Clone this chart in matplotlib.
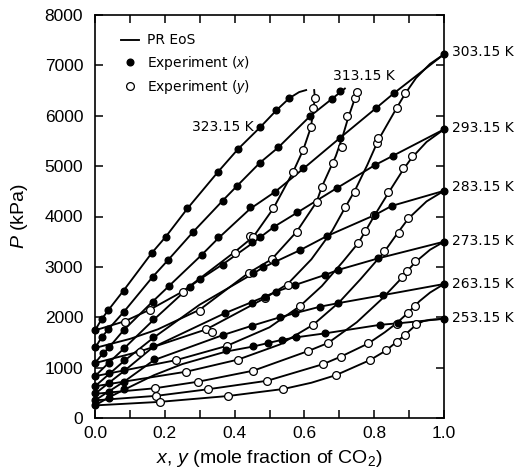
import matplotlib
matplotlib.use("Agg")
import matplotlib.pyplot as plt
from matplotlib.lines import Line2D

plt.rcParams['mathtext.fontset'] = 'custom'
plt.rcParams['mathtext.rm'] = 'Liberation Sans'
plt.rcParams['mathtext.it'] = 'Liberation Sans:italic'

# ---------------- data (x or y = mole fraction CO2, P in kPa) ----------------
temps = [323.15, 313.15, 303.15, 293.15, 283.15, 273.15, 263.15, 253.15]

# PR EoS bubble curves
bub_323_x = [0, 0.019, 0.038, 0.083, 0.162, 0.203, 0.265, 0.353, 0.41, 0.473, 0.52, 0.557, 0.585, 0.605]
bub_323_P = [1740, 1960, 2140, 2540, 3270, 3600, 4160, 4890, 5340, 5770, 6110, 6350, 6470, 6510]
bub_313_x = [0, 0.019, 0.038, 0.083, 0.165, 0.21, 0.282, 0.368, 0.406, 0.473, 0.525, 0.616, 0.678, 0.716]
bub_313_P = [1390, 1600, 1760, 2110, 2800, 3140, 3700, 4330, 4600, 5070, 5370, 5990, 6330, 6540]
bub_303_x = [0, 0.02, 0.04, 0.083, 0.165, 0.212, 0.306, 0.352, 0.444, 0.516, 0.597, 0.702, 0.805, 0.857, 1.0]
bub_303_P = [1090, 1260, 1400, 1750, 2310, 2620, 3240, 3560, 4150, 4490, 4950, 5560, 6150, 6450, 7220]
bub_293_x = [0, 0.04, 0.083, 0.165, 0.272, 0.30, 0.368, 0.449, 0.514, 0.58, 0.692, 0.802, 0.855, 1.0]
bub_293_P = [830, 1100, 1380, 1930, 2610, 2750, 3060, 3460, 3800, 4080, 4560, 5020, 5210, 5730]
bub_283_x = [0, 0.04, 0.083, 0.165, 0.30, 0.454, 0.482, 0.516, 0.587, 0.664, 0.802, 0.85, 1.0]
bub_283_P = [630, 870, 1130, 1580, 2250, 2870, 2990, 3100, 3330, 3610, 4030, 4210, 4510]
bub_273_x = [0, 0.04, 0.083, 0.165, 0.372, 0.449, 0.487, 0.52, 0.573, 0.659, 0.697, 0.812, 1.0]
bub_273_P = [480, 700, 930, 1400, 2080, 2300, 2410, 2510, 2640, 2840, 2940, 3170, 3500]
bub_263_x = [0, 0.04, 0.083, 0.169, 0.368, 0.449, 0.53, 0.573, 0.645, 0.697, 0.826, 1.0]
bub_263_P = [350, 530, 720, 1150, 1650, 1830, 2000, 2080, 2210, 2280, 2440, 2660]
bub_253_x = [0, 0.04, 0.083, 0.169, 0.25, 0.376, 0.454, 0.497, 0.535, 0.575, 0.659, 0.817, 0.869, 1.0]
bub_253_P = [250, 410, 560, 850, 1070, 1320, 1420, 1490, 1550, 1600, 1680, 1850, 1880, 1970]

# PR EoS dew curves
dew_323_y = [0, 0.085, 0.157, 0.251, 0.344, 0.401, 0.454, 0.511, 0.568, 0.597, 0.619, 0.626, 0.63, 0.628]
dew_323_P = [1740, 1920, 2150, 2510, 3000, 3300, 3600, 4160, 4890, 5330, 5780, 6150, 6350, 6510]
dew_313_y = [0, 0.1, 0.18, 0.3, 0.44, 0.506, 0.578, 0.635, 0.65, 0.69, 0.71, 0.725, 0.74, 0.75]
dew_313_P = [1390, 1570, 1760, 2150, 2880, 3150, 3700, 4290, 4590, 5200, 5600, 5950, 6250, 6480]
dew_303_y = [0, 0.128, 0.319, 0.487, 0.552, 0.62, 0.68, 0.716, 0.745, 0.78, 0.812, 0.864, 0.888, 0.92, 0.96, 1.0]
dew_303_P = [1090, 1320, 1760, 2380, 2660, 3150, 3720, 4170, 4520, 5020, 5520, 6150, 6430, 6750, 7030, 7220]
dew_293_y = [0, 0.233, 0.377, 0.5, 0.587, 0.65, 0.71, 0.755, 0.774, 0.80, 0.839, 0.883, 0.907, 0.95, 1.0]
dew_293_P = [830, 1150, 1430, 1800, 2220, 2620, 3100, 3480, 3700, 4010, 4450, 4930, 5160, 5480, 5730]
dew_283_y = [0, 0.262, 0.41, 0.53, 0.625, 0.7, 0.76, 0.829, 0.87, 0.898, 0.95, 1.0]
dew_283_P = [630, 920, 1160, 1460, 1850, 2300, 2750, 3300, 3700, 3960, 4300, 4510]
dew_273_y = [0, 0.171, 0.295, 0.454, 0.611, 0.668, 0.75, 0.82, 0.879, 0.893, 0.917, 0.96, 1.0]
dew_273_P = [480, 590, 720, 940, 1330, 1490, 1900, 2350, 2780, 2900, 3090, 3340, 3500]
dew_263_y = [0, 0.176, 0.323, 0.494, 0.654, 0.705, 0.783, 0.83, 0.864, 0.897, 0.93, 0.96, 1.0]
dew_263_P = [350, 440, 570, 740, 1070, 1220, 1480, 1700, 1880, 2090, 2320, 2490, 2660]
dew_253_y = [0, 0.185, 0.382, 0.54, 0.62, 0.69, 0.788, 0.834, 0.864, 0.888, 0.92, 0.94, 0.96, 1.0]
dew_253_P = [250, 320, 437, 576, 700, 850, 1150, 1340, 1510, 1650, 1850, 1920, 1950, 1970]

# Experimental liquid (x) points
ex_323_x = [0, 0.019, 0.038, 0.083, 0.162, 0.203, 0.265, 0.353, 0.41, 0.473, 0.52, 0.557]
ex_323_P = [1750, 1960, 2140, 2520, 3270, 3600, 4160, 4890, 5340, 5770, 6110, 6350]
ex_313_x = [0, 0.019, 0.038, 0.083, 0.165, 0.21, 0.282, 0.368, 0.406, 0.473, 0.525, 0.616, 0.678, 0.702]
ex_313_P = [1400, 1600, 1760, 2110, 2800, 3140, 3700, 4300, 4600, 5070, 5370, 5990, 6330, 6490]
ex_303_x = [0, 0.024, 0.04, 0.083, 0.165, 0.212, 0.306, 0.352, 0.444, 0.516, 0.597, 0.702, 0.805, 0.857, 1.0]
ex_303_P = [1100, 1300, 1400, 1750, 2310, 2620, 3240, 3600, 4180, 4490, 4960, 5560, 6150, 6450, 7220]
ex_293_x = [0, 0.04, 0.083, 0.165, 0.272, 0.30, 0.368, 0.449, 0.473, 0.514, 0.58, 0.692, 0.802, 0.855, 1.0]
ex_293_P = [840, 1100, 1380, 1960, 2610, 2750, 3040, 3500, 3590, 3800, 4080, 4560, 5020, 5210, 5730]
ex_283_x = [0, 0.04, 0.083, 0.165, 0.454, 0.482, 0.516, 0.587, 0.664, 0.802, 0.85, 1.0]
ex_283_P = [640, 890, 1150, 1600, 2870, 2990, 3100, 3330, 3610, 4030, 4210, 4510]
ex_273_x = [0, 0.04, 0.083, 0.165, 0.372, 0.449, 0.487, 0.52, 0.573, 0.659, 0.697, 0.812, 1.0]
ex_273_P = [490, 690, 950, 1420, 2080, 2290, 2410, 2510, 2640, 2840, 2940, 3170, 3500]
ex_263_x = [0, 0.04, 0.083, 0.169, 0.368, 0.449, 0.53, 0.573, 0.645, 0.697, 0.826, 1.0]
ex_263_P = [360, 520, 720, 1180, 1650, 1830, 2000, 2080, 2210, 2280, 2440, 2660]
ex_253_x = [0, 0.04, 0.083, 0.376, 0.454, 0.497, 0.535, 0.575, 0.659, 0.817, 0.869, 1.0]
ex_253_P = [260, 400, 570, 1350, 1420, 1490, 1550, 1600, 1680, 1850, 1880, 1970]

# Experimental vapour (y) points
ey_323_y = [0.085, 0.157, 0.251, 0.401, 0.444, 0.454, 0.511, 0.568, 0.597, 0.619, 0.626, 0.63]
ey_323_P = [1910, 2140, 2510, 3270, 3610, 3600, 4160, 4890, 5330, 5780, 6150, 6350]
ey_313_y = [0.3, 0.44, 0.506, 0.578, 0.635, 0.65, 0.681, 0.707, 0.721, 0.745, 0.75]
ey_313_P = [2130, 2880, 3150, 3700, 4290, 4590, 5060, 5370, 5990, 6350, 6480]
ey_303_y = [0.128, 0.319, 0.334, 0.487, 0.552, 0.716, 0.745, 0.807, 0.812, 0.864, 0.888]
ey_303_P = [1320, 1760, 1710, 2380, 2640, 4190, 4490, 5450, 5550, 6150, 6450]
ey_293_y = [0.233, 0.377, 0.587, 0.755, 0.774, 0.80, 0.839, 0.883, 0.907]
ey_293_P = [1150, 1430, 2220, 3480, 3720, 4030, 4480, 4960, 5200]
ey_283_y = [0.262, 0.41, 0.625, 0.829, 0.87, 0.898]
ey_283_P = [920, 1160, 1850, 3320, 3680, 3970]
ey_273_y = [0.171, 0.295, 0.454, 0.611, 0.668, 0.879, 0.893, 0.917]
ey_273_P = [590, 720, 940, 1330, 1490, 2790, 2920, 3110]
ey_263_y = [0.176, 0.323, 0.494, 0.654, 0.705, 0.783, 0.864, 0.897, 0.917]
ey_263_P = [440, 570, 740, 1070, 1220, 1480, 1870, 2080, 2230]
ey_253_y = [0.185, 0.382, 0.54, 0.69, 0.788, 0.834, 0.864, 0.888, 0.92]
ey_253_P = [320, 437, 576, 850, 1150, 1340, 1510, 1650, 1860]

label_323_pos = (0.455, 5780)
label_313_pos = (0.682, 6790)
right_labels = ["303.15 K", "293.15 K", "283.15 K", "273.15 K", "263.15 K", "253.15 K"]
right_label_P = [7260, 5760, 4580, 3510, 2660, 1985]

x_ticks = [0.0, 0.2, 0.4, 0.6, 0.8, 1.0]
x_ticklabels = ["0.0", "0.2", "0.4", "0.6", "0.8", "1.0"]
y_ticks = [0, 1000, 2000, 3000, 4000, 5000, 6000, 7000, 8000]

# ---------------- plotting ----------------
fig = plt.figure(figsize=(5.17, 4.75), dpi=100)
ax = fig.add_axes([95/517, 1-418/475, 349/517, 403/475])

lw = 1.35
ms_fill = 4.8
ms_open = 5.6
bubbles = [(bub_323_x, bub_323_P), (bub_313_x, bub_313_P), (bub_303_x, bub_303_P), (bub_293_x, bub_293_P),
           (bub_283_x, bub_283_P), (bub_273_x, bub_273_P), (bub_263_x, bub_263_P), (bub_253_x, bub_253_P)]
dews = [(dew_323_y, dew_323_P), (dew_313_y, dew_313_P), (dew_303_y, dew_303_P), (dew_293_y, dew_293_P),
        (dew_283_y, dew_283_P), (dew_273_y, dew_273_P), (dew_263_y, dew_263_P), (dew_253_y, dew_253_P)]
exs = [(ex_323_x, ex_323_P), (ex_313_x, ex_313_P), (ex_303_x, ex_303_P), (ex_293_x, ex_293_P),
       (ex_283_x, ex_283_P), (ex_273_x, ex_273_P), (ex_263_x, ex_263_P), (ex_253_x, ex_253_P)]
eys = [(ey_323_y, ey_323_P), (ey_313_y, ey_313_P), (ey_303_y, ey_303_P), (ey_293_y, ey_293_P),
       (ey_283_y, ey_283_P), (ey_273_y, ey_273_P), (ey_263_y, ey_263_P), (ey_253_y, ey_253_P)]

for xs, ps in bubbles:
    ax.plot(xs, ps, color='black', lw=lw, solid_joinstyle='round', zorder=2, clip_on=False)
for xs, ps in dews:
    ax.plot(xs, ps, color='black', lw=lw, solid_joinstyle='round', zorder=2, clip_on=False)
for xs, ps in eys:
    ax.plot(xs, ps, 'o', ms=ms_open, mfc='white', mec='black', mew=0.9, zorder=3, clip_on=False)
for xs, ps in exs:
    ax.plot(xs, ps, 'o', ms=ms_fill, mfc='black', mec='black', zorder=4, clip_on=False)

ax.set_xlim(0, 1.0)
ax.set_ylim(0, 8000)
ax.set_xticks(x_ticks)
ax.set_xticklabels(x_ticklabels)
ax.set_xticks([0.1, 0.3, 0.5, 0.7, 0.9], minor=True)
ax.set_yticks(y_ticks)
ax.tick_params(which='both', direction='in', top=True, right=True, length=6, width=1.1,
               labelsize=12.5)
ax.tick_params(axis='x', which='both', pad=6)
ax.tick_params(axis='y', which='both', pad=8.5)
for lab in ax.get_xticklabels() + ax.get_yticklabels():
    lab.set_fontfamily('Liberation Sans')
for s in ax.spines.values():
    s.set_linewidth(1.2)

ax.set_xlabel('$x$, $y$ (mole fraction of CO$_2$)', fontsize=14, fontfamily='Liberation Sans')
ax.xaxis.set_label_coords(0.5, -0.075)
ax.set_ylabel('$P$ (kPa)', fontsize=14, fontfamily='Liberation Sans')
ax.yaxis.set_label_coords(-0.185, 0.5)

lfont = {'family': 'DejaVu Sans', 'size': 10}
ax.text(label_323_pos[0], label_323_pos[1], "323.15 K", ha='right', va='center', **lfont)
ax.text(label_313_pos[0], label_313_pos[1], "313.15 K", ha='left', va='center', **lfont)
for lab, p in zip(right_labels, right_label_P):
    ax.text(1.023, p, lab, ha='left', va='center', clip_on=False, **lfont)

handles = [Line2D([], [], color='black', lw=lw),
           Line2D([], [], ls='none', marker='o', ms=ms_fill, mfc='black', mec='black'),
           Line2D([], [], ls='none', marker='o', ms=ms_open, mfc='white', mec='black', mew=0.9)]
leg = ax.legend(handles, ['PR EoS', 'Experiment ($x$)', 'Experiment ($y$)'], loc='upper left',
                frameon=False, prop={'family': 'DejaVu Sans', 'size': 10}, handlelength=1.3,
                handletextpad=0.6, labelspacing=0.45, bbox_to_anchor=(0.05, 0.975), borderaxespad=0.2)

fig.savefig('out.png', dpi=100)
